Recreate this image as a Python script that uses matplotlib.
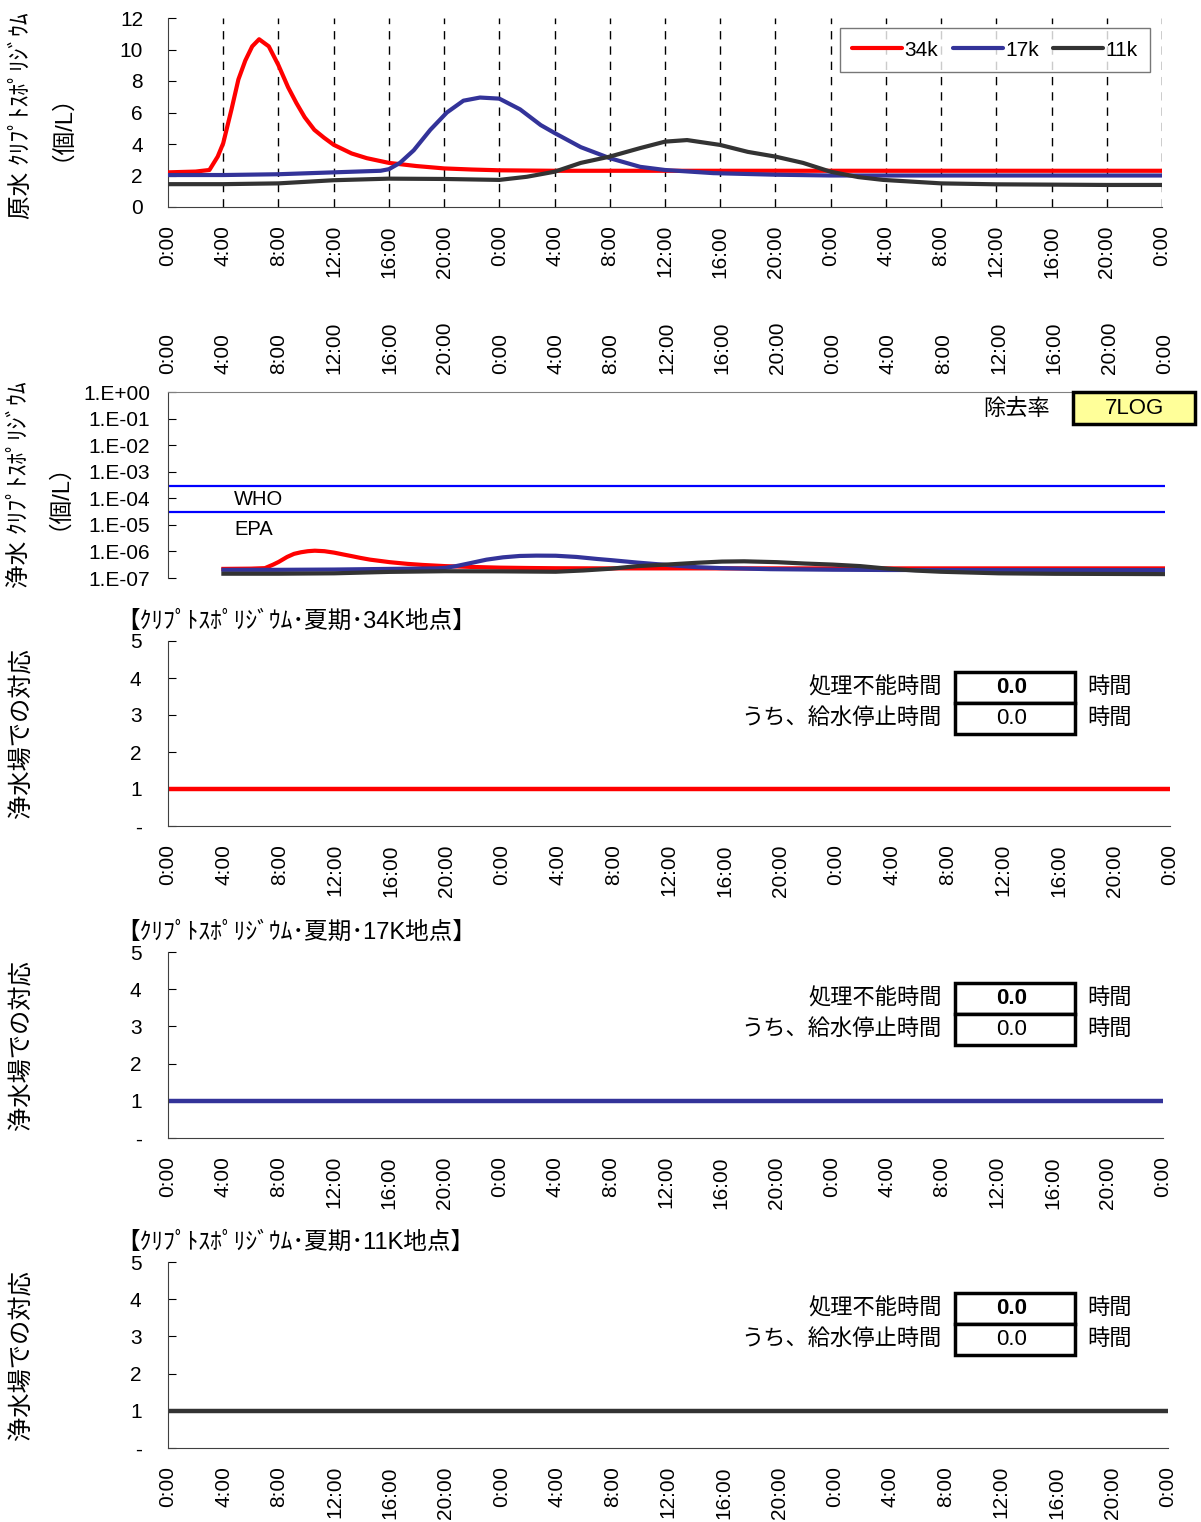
import numpy as np
import matplotlib
matplotlib.use("Agg")
import matplotlib.pyplot as plt
from matplotlib.patches import Rectangle

plt.rcParams["font.family"] = ["Liberation Sans", "Noto Sans CJK JP"]
plt.rcParams["axes.unicode_minus"] = False

###----------- data -----------
stations = ["34k", "17k", "11k"]
colors = ["#ff0000", "#333399", "#333333"]

# raw water cryptosporidium (個/L), hours from start
hours_34k = [0, 2, 3, 3.6, 4, 4.6, 5.1, 5.6, 6.1, 6.6, 7.3, 8, 8.7, 9.3, 9.9, 10.6, 11.3, 12,
             13.3, 14.4, 16, 18, 20, 22, 24, 28, 32, 36, 40, 44, 48, 52, 56, 60, 64, 68, 72]
raw_34k = [2.2, 2.25, 2.35, 3.2, 4.05, 6.2, 8.1, 9.3, 10.2, 10.65, 10.2, 9.0, 7.6, 6.6, 5.7, 4.9, 4.4, 3.95,
           3.4, 3.1, 2.8, 2.6, 2.45, 2.38, 2.33, 2.3, 2.3, 2.3, 2.3, 2.3, 2.3, 2.3, 2.3, 2.3, 2.3, 2.3, 2.3]

hours_17k = [0, 4, 8, 12, 15.4, 16, 16.8, 17.8, 19, 20.2, 21.4, 22.6, 24, 25.5, 27, 28, 29.9, 32,
             34.2, 36, 39.5, 44, 48, 52, 56, 60, 64, 68, 72]
raw_17k = [2.03, 2.03, 2.08, 2.2, 2.3, 2.4, 2.8, 3.6, 4.9, 6.0, 6.75, 6.95, 6.88, 6.2, 5.2, 4.7, 3.8, 3.1,
           2.55, 2.35, 2.15, 2.05, 2.0, 2.0, 2.0, 2.0, 2.0, 2.0, 2.0]

hours_11k = [0, 4, 8, 12, 16, 20, 24, 26, 28, 29.9, 32, 34.2, 36, 37.6, 40, 42, 44, 46, 48, 50,
             51.8, 56, 60, 64, 68, 72]
raw_11k = [1.45, 1.45, 1.5, 1.7, 1.8, 1.78, 1.72, 1.92, 2.24, 2.8, 3.2, 3.74, 4.15, 4.25, 3.94, 3.5,
           3.2, 2.8, 2.24, 1.9, 1.72, 1.5, 1.44, 1.42, 1.4, 1.4]

raw_hours = [hours_34k, hours_17k, hours_11k]
raw_vals = [raw_34k, raw_17k, raw_11k]

removal_log = 7          # 除去率 7LOG
delay_h = 4              # treated water lags raw water
who_limit = 3e-4
epa_limit = 3e-5

# plant response level per station
resp_hours = [0, 72]
resp_levels = [[1, 1], [1, 1], [1, 1]]
untreatable_h = [0.0, 0.0, 0.0]
supply_stop_h = [0.0, 0.0, 0.0]
titles = ["【ｸﾘﾌﾟﾄｽﾎﾟﾘｼﾞｳﾑ･夏期･34K地点】",
          "【ｸﾘﾌﾟﾄｽﾎﾟﾘｼﾞｳﾑ･夏期･17K地点】",
          "【ｸﾘﾌﾟﾄｽﾎﾟﾘｼﾞｳﾑ･夏期･11K地点】"]

xticks = np.arange(0, 73, 4)
xlabels = [f"{int(h) % 24}:00" for h in xticks]

###----------- layout helpers (pixels of a 1201x1522 canvas) -----------
W, H = 1201, 1522


def box(left, top, right, bottom):
    return [left / W, 1 - bottom / H, (right - left) / W, (bottom - top) / H]


def fx(x):
    return x / W


def fy(y):
    return 1 - y / H


fig = plt.figure(figsize=(W / 100, H / 100), dpi=100)
TICK_FS = 15
AX_COLOR = "#404040"

######----------- panel 1: raw water -----------
ax1 = fig.add_axes(box(168, 18, 1162, 207))
for hh, vv, c, name in zip(raw_hours, raw_vals, colors, stations):
    ax1.plot(hh, vv, color=c, lw=3, label=name, solid_capstyle="round",
             solid_joinstyle="round", zorder=3)
ax1.set_xlim(0, 72)
ax1.set_ylim(0, 12)
ax1.set_yticks(range(0, 13, 2))
ax1.set_xticks(xticks)
ax1.set_xticklabels(xlabels, rotation=90)
for h in xticks[1:]:
    ax1.axvline(h, color="black", lw=1, ls=(0, (6, 5)), zorder=1)
ax1.tick_params(axis="x", length=0, pad=13, labelsize=TICK_FS)
ax1.tick_params(axis="y", direction="in", length=6, pad=18, labelsize=TICK_FS)
for s in ["top", "right"]:
    ax1.spines[s].set_visible(False)
for s in ["left", "bottom"]:
    ax1.spines[s].set_color(AX_COLOR)
leg = ax1.legend(loc="upper right", bbox_to_anchor=(0.988, 0.947), ncol=3, fontsize=15,
                 handlelength=2.4, handletextpad=0.1, columnspacing=0.7, fancybox=False,
                 borderpad=0.6, borderaxespad=0)
leg.get_frame().set_edgecolor("#555555")
leg.get_frame().set_linewidth(1)
fig.text(fx(22), fy(116), "原水 ｸﾘﾌﾟﾄｽﾎﾟﾘｼﾞｳﾑ", rotation=90, ha="center", va="center", fontsize=17)
fig.text(fx(50), fy(116), "（個/L）", rotation=90, ha="center", va="center", fontsize=17)

######----------- panel 2: treated water (log) -----------
ax2 = fig.add_axes(box(168, 392, 1165, 578))
for hh, vv, c in zip(raw_hours, raw_vals, colors):
    t = np.array(hh) + delay_h
    v = np.array(vv) * 10.0 ** (-removal_log)
    keep = t <= 72
    ax2.plot(t[keep], v[keep], color=c, lw=3, solid_joinstyle="round", zorder=3)
ax2.axhline(who_limit, color="#0000ff", lw=1.6, zorder=2)
ax2.axhline(epa_limit, color="#0000ff", lw=1.6, zorder=2)
ax2.set_yscale("log")
ax2.set_ylim(1e-7, 1)
ax2.set_xlim(0, 72)
yt = [10.0 ** -k for k in range(0, 8)]
ax2.set_yticks(yt)
ax2.set_yticklabels([f"1.E{'+' if k == 0 else '-'}{k:02d}" for k in range(0, 8)])
ax2.minorticks_off()
ax2.xaxis.tick_top()
ax2.set_xticks(xticks)
ax2.set_xticklabels(xlabels, rotation=90)
ax2.tick_params(axis="x", length=0, pad=13, labelsize=TICK_FS)
ax2.tick_params(axis="y", direction="in", length=6, pad=13, labelsize=TICK_FS)
ax2.spines["bottom"].set_visible(False)
ax2.spines["right"].set_visible(False)
ax2.spines["top"].set_color("#808080")
ax2.spines["left"].set_color(AX_COLOR)
ax2.text(fx(234), fy(499), "WHO", transform=fig.transFigure, ha="left", va="center", fontsize=14.5)
ax2.text(fx(234), fy(530), "EPA", transform=fig.transFigure, ha="left", va="center", fontsize=14.5)
fig.text(fx(1050), fy(409), "除去率", ha="right", va="center", fontsize=16)
fig.add_artist(Rectangle((fx(1073), fy(424)), fx(1195) - fx(1073), fy(392) - fy(424),
                         transform=fig.transFigure, facecolor="#ffff99", edgecolor="black",
                         lw=2.5, zorder=5))
fig.text(fx(1134), fy(408), f"{removal_log}LOG", ha="center", va="center", fontsize=16, zorder=6)
fig.text(fx(20), fy(485), "浄水 ｸﾘﾌﾟﾄｽﾎﾟﾘｼﾞｳﾑ", rotation=90, ha="center", va="center", fontsize=17)
fig.text(fx(47), fy(485), "（個/L）", rotation=90, ha="center", va="center", fontsize=17)

######----------- panels 3-5: plant response -----------
panel_boxes = [(168, 641, 1170, 826), (168, 952, 1163, 1138), (168, 1262, 1168, 1448)]
for i, (l, t, r, b) in enumerate(panel_boxes):
    ax = fig.add_axes(box(l, t, r, b))
    ax.plot(resp_hours, resp_levels[i], color=colors[i], lw=3.2, solid_capstyle="round")
    ax.set_xlim(0, 72)
    ax.set_ylim(0, 5)
    ax.set_yticks(range(0, 6))
    ax.set_yticklabels(["-", "1", "2", "3", "4", "5"])
    ax.set_xticks(xticks)
    ax.set_xticklabels(xlabels, rotation=90)
    ax.tick_params(axis="x", length=0, pad=13, labelsize=TICK_FS)
    ax.tick_params(axis="y", direction="in", length=6, pad=19, labelsize=TICK_FS)
    for s in ["top", "right"]:
        ax.spines[s].set_visible(False)
    for s in ["left", "bottom"]:
        ax.spines[s].set_color(AX_COLOR)

    fig.text(fx(116), fy(t - 19), titles[i], ha="left", va="center", fontsize=17)
    fig.text(fx(22), fy((t + b) / 2), "浄水場での対応", rotation=90, ha="center", va="center",
             fontsize=17.5)

    # summary boxes
    for j, (label, val, bold) in enumerate([("処理不能時間", untreatable_h[i], True),
                                            ("うち、給水停止時間", supply_stop_h[i], False)]):
        top = t + 31 + j * 31
        bot = top + 31
        fig.add_artist(Rectangle((fx(955), fy(bot)), fx(1075) - fx(955), fy(top) - fy(bot),
                                 transform=fig.transFigure, facecolor="white",
                                 edgecolor="black", lw=2.5))
        mid = (top + bot) / 2
        fig.text(fx(942), fy(mid), label, ha="right", va="center", fontsize=16)
        fig.text(fx(1012), fy(mid), f"{val:.1f}", ha="center", va="center", fontsize=16,
                 fontweight="bold" if bold else "normal")
        fig.text(fx(1087), fy(mid), "時間", ha="left", va="center", fontsize=16)

fig.savefig("out.png", dpi=100)
